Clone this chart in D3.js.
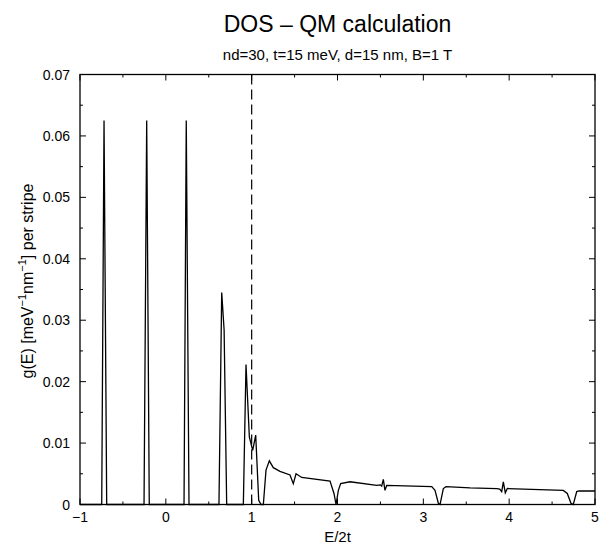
<!DOCTYPE html>
<html>
<head>
<meta charset="utf-8">
<script src="https://cdn.jsdelivr.net/npm/d3@7"></script>
<style>
  body { margin: 0; background: #fff; }
  text { font-family: "Liberation Sans", Arial, Helvetica, sans-serif; fill: #000; }
</style>
</head>
<body>
<svg width="600" height="547"></svg>
<script>
var svg = d3.select("svg");

// DOS curve (E/2t, g(E))
const energy = [-1, -0.747, -0.720, -0.689,
	-0.254, -0.223, -0.193,
	0.212, 0.238, 0.270,
	0.619, 0.651, 0.679, 0.709,
	0.903, 0.934, 0.973, 1.012, 1.047, 1.082, 1.109, 1.136, 1.167, 1.206,
	1.252, 1.330, 1.447, 1.485, 1.517, 1.583, 1.913, 1.959, 1.983, 2.010, 2.037, 2.146,
	2.457, 2.497, 2.515, 2.534, 2.553, 2.573, 3.098, 3.136, 3.175, 3.195, 3.233, 3.264,
	3.544, 3.855, 3.890, 3.913, 3.932, 3.955, 3.979, 4.631, 4.677, 4.720, 4.747, 4.787, 4.814, 5];
const dos = [0, 0, 0.0625, 0,
	0, 0.0625, 0,
	0, 0.0625, 0,
	0, 0.0345, 0.0284, 0,
	0, 0.0228, 0.0110, 0.0088, 0.0113, 0.0007, 0, 0, 0.0056, 0.0071,
	0.0060, 0.0054, 0.0048, 0.0034, 0.0050, 0.0044, 0.0038, 0.0018, 0, 0.0023, 0.0034, 0.0037,
	0.0031, 0.0032, 0.0030, 0.0041, 0.0023, 0.0031, 0.0029, 0.0023, 0.0002, 0, 0.0026, 0.0029,
	0.0027, 0.0026, 0.0025, 0.0021, 0.0037, 0.0019, 0.0026, 0.0023, 0.0018, 0.0002, 0, 0.0021, 0.0022, 0.0022];

const xTicks = [-1, 0, 1, 2, 3, 4, 5];
const xMinor = [-0.5, 0.5, 1.5, 2.5, 3.5, 4.5];
const yTicks = [0, 0.01, 0.02, 0.03, 0.04, 0.05, 0.06, 0.07];
const yMinor = [0.005, 0.015, 0.025, 0.035, 0.045, 0.055, 0.065];
const fermi = 1;

const pl = 80, pr = 595, pt = 74.5, pb = 504.5;

var x = d3.scaleLinear().domain([-1, 5]).range([pl, pr]);
var y = d3.scaleLinear().domain([0, 0.07]).range([pb, pt]);

function fmtX(v) { return v < 0 ? "\u2212" + Math.abs(v) : String(v); }
function fmtY(v) { return v === 0 ? "0" : d3.format(".2f")(v); }

// ticks (inside, mirrored)
var ticks = svg.append("g").attr("stroke", "#000").attr("stroke-width", 1);
function tickX(v, len) {
	ticks.append("line").attr("x1", x(v)).attr("x2", x(v)).attr("y1", pb).attr("y2", pb - len);
	ticks.append("line").attr("x1", x(v)).attr("x2", x(v)).attr("y1", pt).attr("y2", pt + len);
}
function tickY(v, len) {
	ticks.append("line").attr("y1", y(v)).attr("y2", y(v)).attr("x1", pl).attr("x2", pl + len);
	ticks.append("line").attr("y1", y(v)).attr("y2", y(v)).attr("x1", pr).attr("x2", pr - len);
}
xTicks.forEach(v => tickX(v, 6));
xMinor.forEach(v => tickX(v, 3));
yTicks.forEach(v => tickY(v, 6));
yMinor.forEach(v => tickY(v, 3));

svg.append("g").selectAll("text")
	.data(xTicks)
	.enter()
	.append("text")
	.attr("x", d => x(d))
	.attr("y", 521.5)
	.attr("text-anchor", "middle")
	.style("font-size", "14px")
	.text(fmtX);

svg.append("g").selectAll("text")
	.data(yTicks)
	.enter()
	.append("text")
	.attr("x", 70)
	.attr("y", d => y(d) + 5)
	.attr("text-anchor", "end")
	.style("font-size", "14px")
	.text(fmtY);

// dashed line at E/2t = 1
svg.append("line")
	.attr("x1", x(fermi)).attr("x2", x(fermi))
	.attr("y1", pt).attr("y2", pb)
	.attr("stroke", "#000")
	.attr("stroke-width", 1.2)
	.attr("stroke-dasharray", "10,5");

var line = d3.line()
	.x((d, i) => x(energy[i]))
	.y(d => y(d));

svg.append("path")
	.datum(dos)
	.attr("d", line)
	.attr("fill", "none")
	.attr("stroke", "#000")
	.attr("stroke-width", 1.3)
	.attr("stroke-linejoin", "miter");

// frame
svg.append("rect")
	.attr("x", pl).attr("y", pt)
	.attr("width", pr - pl).attr("height", pb - pt)
	.attr("fill", "none")
	.attr("stroke", "#000")
	.attr("stroke-width", 1.3);

// titles
svg.append("text")
	.attr("x", (pl + pr) / 2).attr("y", 31.5)
	.attr("text-anchor", "middle")
	.style("font-size", "23px")
	.text("DOS \u2013 QM calculation");

svg.append("text")
	.attr("x", (pl + pr) / 2).attr("y", 60)
	.attr("text-anchor", "middle")
	.style("font-size", "15px")
	.text("nd=30, t=15 meV, d=15 nm, B=1 T");

svg.append("text")
	.attr("x", (pl + pr) / 2).attr("y", 542)
	.attr("text-anchor", "middle")
	.style("font-size", "15px")
	.text("E/2t");

var ylab = svg.append("text")
	.attr("transform", "translate(33,281) rotate(-90)")
	.attr("text-anchor", "middle")
	.style("font-size", "16px");
ylab.append("tspan").text("g(E) [meV");
ylab.append("tspan").attr("dy", -7).style("font-size", "11px").text("\u22121");
ylab.append("tspan").attr("dy", 7).text("nm");
ylab.append("tspan").attr("dy", -7).style("font-size", "11px").text("\u22121");
ylab.append("tspan").attr("dy", 7).text("] per stripe");
</script>
</body>
</html>
